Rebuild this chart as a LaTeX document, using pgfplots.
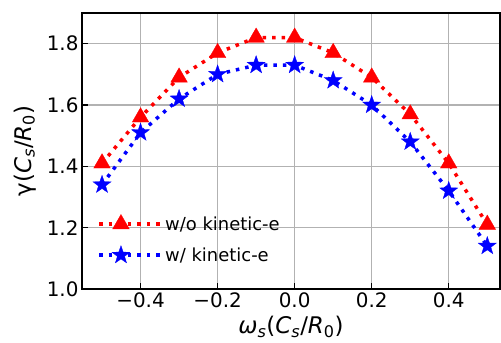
\documentclass[border=0pt]{standalone}
\usepackage{pgfplots}
\pgfplotsset{compat=1.18}
\usepackage{fontspec}
\setmainfont{DejaVu Sans}
\pgfdeclareplotmark{fstar}{%
  \pgfpathmoveto{\pgfqpointpolar{90}{\pgfplotmarksize}}%
  \pgfpathlineto{\pgfqpointpolar{126}{0.4\pgfplotmarksize}}%
  \pgfpathlineto{\pgfqpointpolar{162}{\pgfplotmarksize}}%
  \pgfpathlineto{\pgfqpointpolar{198}{0.4\pgfplotmarksize}}%
  \pgfpathlineto{\pgfqpointpolar{234}{\pgfplotmarksize}}%
  \pgfpathlineto{\pgfqpointpolar{270}{0.4\pgfplotmarksize}}%
  \pgfpathlineto{\pgfqpointpolar{306}{\pgfplotmarksize}}%
  \pgfpathlineto{\pgfqpointpolar{342}{0.4\pgfplotmarksize}}%
  \pgfpathlineto{\pgfqpointpolar{18}{\pgfplotmarksize}}%
  \pgfpathlineto{\pgfqpointpolar{54}{0.4\pgfplotmarksize}}%
  \pgfpathclose
  \pgfusepathqfillstroke
}
\begin{document}
\begin{tikzpicture}[x=1bp,y=1bp]
\begin{axis}[
  name=ax,
  scale only axis,
  width=418bp, height=276bp,
  xmin=-0.552, xmax=0.533,
  ymin=1.0, ymax=1.9,
  xtick={-0.4,-0.2,0,0.2,0.4},
  xticklabels={−0.4,−0.2,0.0,0.2,0.4},
  ytick={1.0,1.2,1.4,1.6,1.8},
  yticklabels={1.0,1.2,1.4,1.6,1.8},
  tick align=inside,
  xtick pos=bottom, ytick pos=left,
  major tick length=6bp,
  tick style={black, line width=1.2bp},
  grid=major,
  grid style={gray!60, line width=1.2bp},
  axis line style={black, line width=2bp},
  ticklabel style={font=\fontsize{20}{20}\selectfont},
  label style={font=\fontsize{23}{23}\selectfont},
  xlabel={\textit{ω}\textsubscript{\textit{s}}(\textit{C}\textsubscript{\textit{s}}/\textit{R}\textsubscript{0})},
  ylabel={γ(\textit{C}\textsubscript{\textit{s}}/\textit{R}\textsubscript{0})},
  xlabel style={at={(axis description cs:0.5,-0.163)}, anchor=base},
  ylabel style={at={(axis description cs:-0.122,0.5)}, anchor=base},
  legend style={draw=none, fill=none, at={(axis description cs:0.03,0.08)}, anchor=south west,
    font=\fontsize{18}{18}\selectfont, row sep=12bp},
  legend cell align=left,
  legend image code/.code={
    \draw[mark repeat=2,mark phase=2,#1] plot coordinates {(0bp,0bp) (21.5bp,0bp) (43bp,0bp)};
    \path (0bp,0bp) -- (62bp,0bp);
  },
]
\addplot[red, line width=3.5bp, dash pattern=on 3.5bp off 6bp, mark=triangle*, mark size=9.6bp, mark options={solid, line width=0.3bp, fill=red}]
coordinates {(-0.5,1.41) (-0.4,1.56) (-0.3,1.69) (-0.2,1.77) (-0.1,1.82) (0,1.82) (0.1,1.77) (0.2,1.69) (0.3,1.57) (0.4,1.41) (0.5,1.21)};
\addlegendentry{w/o kinetic-e}
\addplot[blue, line width=3.5bp, dash pattern=on 3.5bp off 6bp, mark=fstar, mark size=9.5bp, mark options={solid, line width=0.3bp, fill=blue}]
coordinates {(-0.5,1.34) (-0.4,1.51) (-0.3,1.62) (-0.2,1.70) (-0.1,1.73) (0,1.73) (0.1,1.68) (0.2,1.60) (0.3,1.48) (0.4,1.32) (0.5,1.14)};
\addlegendentry{w/ kinetic-e}
\end{axis}
\pgfresetboundingbox
\path[use as bounding box] ([shift={(-82bp,-54bp)}]ax.south west) rectangle ([shift={(1bp,13bp)}]ax.north east);
\end{tikzpicture}
\end{document}
